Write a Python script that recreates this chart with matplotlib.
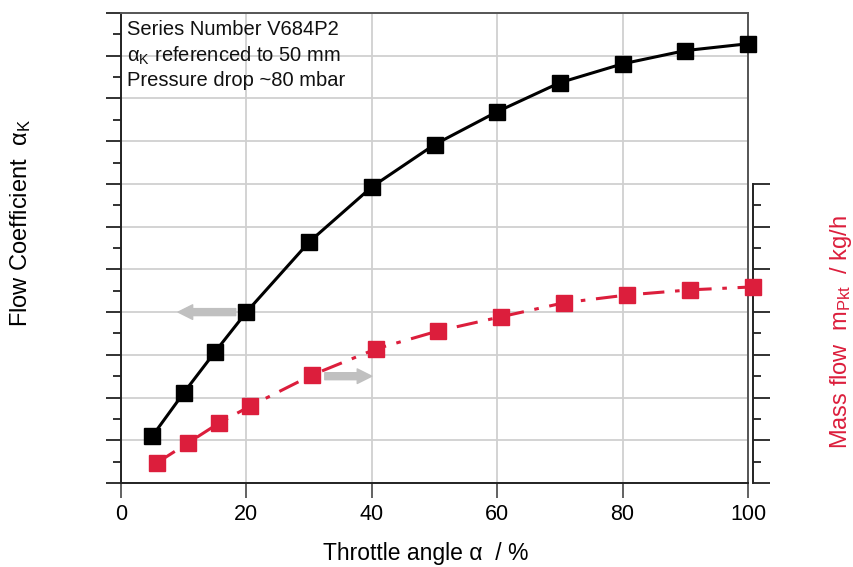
import numpy as np
import matplotlib.pyplot as plt
from matplotlib.ticker import MultipleLocator

plt.rcParams['font.family'] = ['Liberation Sans', 'DejaVu Sans']
plt.rcParams['mathtext.fontset'] = 'custom'
plt.rcParams['mathtext.rm'] = 'Liberation Sans'
plt.rcParams['mathtext.it'] = 'Liberation Sans'

# throttle angle in %
angle_black = [5, 10, 15, 20, 30, 40, 50, 60, 70, 80, 90, 100]
angle_red = [5.7, 10.7, 15.7, 20.6, 30.5, 40.7, 50.6, 60.6, 70.7, 80.7, 90.7, 100.8]
# flow coefficient (left scale, unlabelled) and mass flow (right scale, unlabelled)
flow_coeff = [1.10, 2.11, 3.07, 4.00, 5.64, 6.93, 7.92, 8.69, 9.37, 9.81, 10.12, 10.28]
mass_flow = [0.47, 0.94, 1.41, 1.80, 2.53, 3.14, 3.56, 3.89, 4.22, 4.40, 4.52, 4.59]
x_ticks = [0, 20, 40, 60, 80, 100]

red = '#dc1e3c'
spine_col = '#555555'

fig = plt.figure(figsize=(8.54, 5.67), dpi=100)
ax = fig.add_axes([0.1417, 0.1481, 0.7342, 0.829])

ax.set_xlim(0, 100)
ax.set_ylim(0, 11)
ax.set_xticks(x_ticks)
ax.set_yticks(range(0, 12))
ax.yaxis.set_minor_locator(MultipleLocator(0.5))
ax.set_yticklabels([])
ax.tick_params(axis='x', direction='out', length=11, width=1.3, color=spine_col,
               labelsize=15.5, pad=4)
ax.tick_params(axis='y', which='major', direction='out', length=11, width=1.3, color='#222222')
ax.tick_params(axis='y', which='minor', direction='out', length=6, width=1.3, color='#222222')
ax.grid(True, color='#d0d0d0', lw=1.3)
ax.set_axisbelow(True)
for s in ax.spines.values():
    s.set_color(spine_col)
    s.set_linewidth(1.4)
ax.spines['left'].set_color('#222222')
ax.spines['bottom'].set_color('#222222')

ax.plot(angle_black, flow_coeff, color='black', lw=2.2, marker='s', ms=11.5,
        mfc='black', mec='black', clip_on=False, zorder=5)

# second scale for the mass flow
ax2 = ax.twinx()
ax2.set_ylim(0, 11)
ax2.set_yticks(range(0, 8))
ax2.yaxis.set_minor_locator(plt.FixedLocator(np.arange(0.5, 7, 1)))
ax2.yaxis.set_minor_formatter(plt.NullFormatter())
ax2.set_yticklabels([])
ax2.spines['right'].set_position(('outward', 3.6))
ax2.spines['right'].set_bounds(0, 7)
ax2.spines['right'].set_color('#222222')
ax2.spines['right'].set_linewidth(1.4)
for k in ('top', 'left', 'bottom'):
    ax2.spines[k].set_visible(False)
ax2.tick_params(axis='y', which='major', direction='out', length=12, width=1.3, color='#222222')
ax2.tick_params(axis='y', which='minor', direction='out', length=6, width=1.3, color='#222222')

ax2.plot(angle_red, mass_flow, color=red, lw=2.2, ls=(0, (7, 3.5, 1.5, 3.5)),
         marker='s', ms=11, mfc=red, mec=red, clip_on=False, zorder=5)

# arrows pointing to the matching scale
arrow = dict(arrowstyle='simple,head_length=0.75,head_width=0.75,tail_width=0.36',
             color='#c0c0c0', mutation_scale=14, shrinkA=0, shrinkB=0)
ax.annotate('', xy=(9.1, 4.0), xytext=(18.3, 4.0), arrowprops=arrow, zorder=3)
ax.annotate('', xy=(40.0, 2.5), xytext=(32.5, 2.5), arrowprops=arrow, zorder=3)

ax.text(1.0, 10.84, 'Series Number V684P2', fontsize=14.5, va='top', color='#111111')
ax.text(1.0, 10.25, r'α$_\mathrm{K}$ referenced to 50 mm', fontsize=14.5, va='top', color='#111111')
ax.text(1.0, 9.64, 'Pressure drop ~80 mbar', fontsize=14.5, va='top', color='#111111')

fig.text(0.499, 0.024, 'Throttle angle α  / %', fontsize=16.5, ha='center', va='center')
fig.text(0.024, 0.607, r'Flow Coefficient  α$_\mathrm{K}$', rotation=90,
         fontsize=17, ha='center', va='center')
fig.text(0.985, 0.414, r'Mass flow  m$_\mathrm{Pkt}$  / kg/h', rotation=90,
         fontsize=17, ha='center', va='center', color=red)

fig.savefig('out.png', dpi=100)
